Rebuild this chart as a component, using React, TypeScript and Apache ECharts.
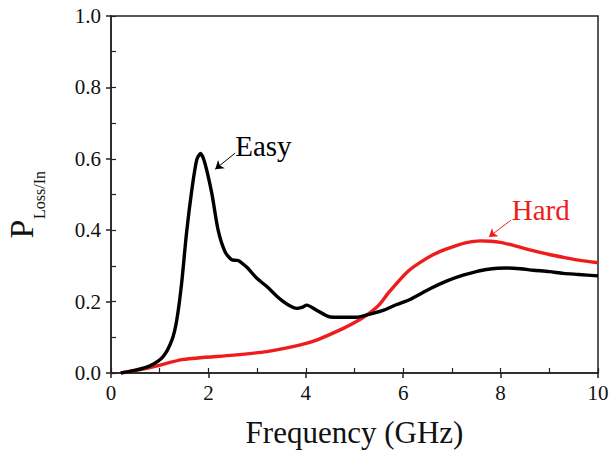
import React, { useEffect, useRef } from "react";
import * as echarts from "echarts";

const easyX = [0.2, 0.5, 0.8, 1.07, 1.25, 1.35, 1.45, 1.55, 1.66, 1.76, 1.84, 1.93, 2.07, 2.2, 2.34, 2.48, 2.61, 2.79, 2.99, 3.2, 3.4, 3.54, 3.7, 3.81, 3.92, 4.02, 4.22, 4.5, 5.04, 5.32, 5.6, 5.87, 6.14, 6.55, 6.9, 7.23, 7.5, 7.71, 8.12, 8.4, 8.67, 9.0, 9.29, 9.6, 10];
const easyY = [0, 0.008, 0.02, 0.046, 0.092, 0.148, 0.251, 0.391, 0.513, 0.597, 0.615, 0.587, 0.503, 0.4, 0.34, 0.317, 0.315, 0.296, 0.266, 0.242, 0.216, 0.2, 0.186, 0.181, 0.184, 0.19, 0.176, 0.157, 0.156, 0.165, 0.176, 0.192, 0.206, 0.236, 0.258, 0.274, 0.284, 0.29, 0.294, 0.292, 0.288, 0.284, 0.279, 0.276, 0.272];

const hardX = [0.2, 0.8, 1.49, 2.51, 3.2, 3.87, 4.22, 4.77, 5.04, 5.25, 5.5, 5.7, 6.1, 6.48, 6.75, 7.03, 7.3, 7.58, 7.8, 7.99, 8.3, 8.6, 9.0, 9.29, 9.6, 10];
const hardY = [0, 0.015, 0.038, 0.05, 0.06, 0.078, 0.092, 0.125, 0.144, 0.162, 0.19, 0.225, 0.285, 0.321, 0.34, 0.354, 0.365, 0.37, 0.369, 0.366, 0.356, 0.345, 0.332, 0.324, 0.316, 0.309];

const xTicks = [0, 2, 4, 6, 8, 10];
const yTicks = [0, 0.2, 0.4, 0.6, 0.8, 1.0];
const xTitle = "Frequency (GHz)";

// annotation positions in data coordinates
const easyLabelPos = [2.55, 0.636];
const easyArrow = [[2.55, 0.616], [2.14, 0.571]];
const hardLabelPos = [8.23, 0.457];
const hardArrow = [[8.21, 0.428], [7.76, 0.381]];

const FONT = "Liberation Serif, Times New Roman, serif";
const AX = "#222";
const TXT = "#111";

export default function App() {
  const ref = useRef<HTMLDivElement>(null);
  useEffect(() => {
    if (!ref.current) return;
    const chart = echarts.init(ref.current, null, { renderer: "svg" });
    const zip = (xs: number[], ys: number[]) => xs.map((x, i) => [x, ys[i]]);
    const arrowLine = (a: number[][], color: string) => ({
      silent: true,
      symbol: ["none", "arrow"],
      symbolSize: 8,
      label: { show: false },
      lineStyle: { color, width: 1, type: "solid" },
      data: [[{ coord: a[0] }, { coord: a[1] }]],
    });
    chart.setOption({
      animation: false,
      textStyle: { fontFamily: FONT },
      grid: { left: 111, top: 16, right: 13, bottom: 80, show: true, borderColor: AX, borderWidth: 1.5 },
      xAxis: [
        {
          type: "value", min: 0, max: 10, interval: 2,
          axisLine: { show: true, onZero: false, lineStyle: { color: AX, width: 1.5 } },
          axisTick: { show: true, length: 5, lineStyle: { color: AX, width: 1.5 } },
          axisLabel: { show: false },
          splitLine: { show: false },
        },
        {
          type: "value", min: 0, max: 10, interval: 1, position: "bottom",
          axisLine: { show: false }, axisLabel: { show: false }, splitLine: { show: false },
          axisTick: { show: true, inside: true, length: 5, lineStyle: { color: AX, width: 1.2 } },
        },
      ],
      yAxis: [
        {
          type: "value", min: 0, max: 1, interval: 0.2,
          axisLine: { show: true, onZero: false, lineStyle: { color: AX, width: 1.5 } },
          axisTick: { show: true, length: 5, lineStyle: { color: AX, width: 1.5 } },
          axisLabel: { show: false },
          splitLine: { show: false },
        },
        {
          type: "value", min: 0, max: 1, interval: 0.1, position: "left",
          axisLine: { show: false }, axisLabel: { show: false }, splitLine: { show: false },
          axisTick: { show: true, inside: true, length: 5, lineStyle: { color: AX, width: 1.2 } },
        },
      ],
      series: [
        {
          type: "line", name: "Easy", data: zip(easyX, easyY), smooth: 0.25, showSymbol: false,
          lineStyle: { color: "#000", width: 3.4 }, itemStyle: { color: "#000" },
          markLine: arrowLine(easyArrow, "#000"), z: 3,
        },
        {
          type: "line", name: "Hard", data: zip(hardX, hardY), smooth: 0.25, showSymbol: false,
          lineStyle: { color: "#ee1c1c", width: 3.4 }, itemStyle: { color: "#ee1c1c" },
          markLine: arrowLine(hardArrow, "#ee1c1c"), z: 2,
        },
      ],
    });
    const px = (p: number[]) => chart.convertToPixel({ gridIndex: 0 }, p) as number[];
    const pE = px(easyLabelPos);
    const pH = px(hardLabelPos);
    const o = px([0, 0]);
    const e = px([10, 1]);
    const xLabels = xTicks.map((v) => {
      const p = px([v, 0]);
      return { type: "text", x: p[0], y: p[1] + 9, style: { text: String(v), fontFamily: FONT, fontSize: 21, fill: TXT, align: "center", verticalAlign: "top" } };
    });
    const yLabels = yTicks.map((v) => {
      const p = px([0, v]);
      return { type: "text", x: p[0] - 10, y: p[1], style: { text: v.toFixed(1), fontFamily: FONT, fontSize: 21, fill: TXT, align: "right", verticalAlign: "middle" } };
    });
    chart.setOption({
      graphic: [
        ...xLabels,
        ...yLabels,
        { type: "text", x: (o[0] + e[0]) / 2, y: o[1] + 59, style: { text: xTitle, fontFamily: FONT, fontSize: 31, fill: TXT, align: "center", verticalAlign: "middle" } },
        { type: "text", x: pE[0], y: pE[1], style: { text: "Easy", fontFamily: FONT, fontSize: 29, fill: "#000", align: "left", verticalAlign: "middle" } },
        { type: "text", x: pH[0], y: pH[1], style: { text: "Hard", fontFamily: FONT, fontSize: 29, fill: "#ee1c1c", align: "left", verticalAlign: "middle" } },
        { type: "text", x: 21, y: 229, rotation: Math.PI / 2, style: { text: "P", fontFamily: FONT, fontSize: 34, fill: TXT, align: "center", verticalAlign: "middle" } },
        { type: "text", x: 39, y: 195, rotation: Math.PI / 2, style: { text: "Loss/In", fontFamily: FONT, fontSize: 16, fill: TXT, align: "center", verticalAlign: "middle" } },
      ],
    });
    return () => chart.dispose();
  }, []);
  return <div ref={ref} style={{ width: 611, height: 453, position: "absolute", left: 0, top: 0 }} />;
}
